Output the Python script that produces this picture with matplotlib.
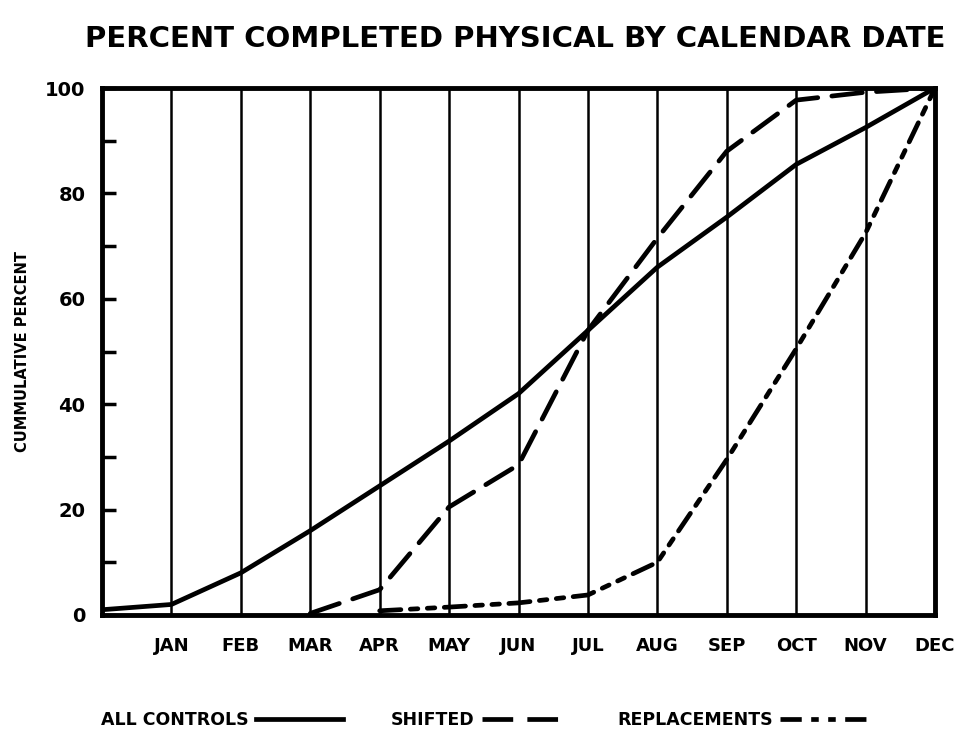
import matplotlib
matplotlib.use("Agg")
import matplotlib.pyplot as plt
from matplotlib.lines import Line2D

months = ["JAN", "FEB", "MAR", "APR", "MAY", "JUN", "JUL", "AUG", "SEP", "OCT", "NOV", "DEC"]
month_pos = list(range(1, 13))

all_x = [0, 1, 2, 3, 4, 5, 6, 7, 8, 9, 10, 11, 12]
all_controls = [1, 2, 8, 16, 24.5, 33, 42, 54, 66, 75.5, 85.5, 92.5, 100]

shifted_x = [3, 4, 5, 6, 7, 8, 9, 10, 11, 12]
shifted = [0.3, 4.8, 20.5, 28.5, 54, 71.5, 88, 97.7, 99.2, 100]

repl_x = [4, 5, 6, 7, 8, 9, 10, 11, 12]
replacements = [0.8, 1.5, 2.3, 3.8, 10, 29.5, 50.5, 72.5, 100]

yticks_major = [0, 20, 40, 60, 80, 100]
yticks_minor = [10, 30, 50, 70, 90]

FONT = ["DejaVu Sans"]
plt.rcParams["font.family"] = FONT
plt.rcParams["font.weight"] = "bold"

fig = plt.figure(figsize=(9.62, 7.36), dpi=100)
ax = fig.add_axes([102 / 962, 1 - 615 / 736, (935 - 102) / 962, (615 - 88) / 736])

ax.set_xlim(0, 12)
ax.set_ylim(0, 100)

for m in month_pos[:-1]:
    ax.axvline(m, color="black", lw=1.8, zorder=1)

lw = 3.4
d_shift = (6.5, 3)
d_repl = (4.5, 2, 1.6, 2, 1.6, 2)
l1, = ax.plot(all_x, all_controls, color="black", lw=lw, solid_capstyle="round", zorder=3)
l2, = ax.plot(shifted_x, shifted, color="black", lw=lw, dashes=d_shift, dash_capstyle="round", zorder=3)
l3, = ax.plot(repl_x, replacements, color="black", lw=lw, dashes=d_repl, dash_capstyle="round", zorder=3)

for s in ax.spines.values():
    s.set_linewidth(3.5)

ax.set_xticks(month_pos)
ax.set_xticklabels(months, fontsize=13, fontweight="bold", family=FONT)
ax.tick_params(axis="x", length=0, pad=16)

ax.set_yticks(yticks_major)
ax.set_yticks(yticks_minor, minor=True)
ax.set_yticklabels([str(v) for v in yticks_major], fontsize=14, fontweight="bold", family=FONT)
ax.tick_params(axis="y", which="both", direction="in", length=10, width=2.5, pad=12)

ax.set_ylabel("CUMMULATIVE PERCENT", fontsize=10.5, fontweight="bold", family=FONT, labelpad=11)

fig.text(0.536, 0.947, "PERCENT COMPLETED PHYSICAL BY CALENDAR DATE",
         ha="center", va="center", fontsize=21, fontweight="bold", family=FONT)

h1 = Line2D([], [], color="black", lw=lw)
h2 = Line2D([], [], color="black", lw=lw, dashes=d_shift)
h3 = Line2D([], [], color="black", lw=lw, dashes=d_repl)
fig.legend([h1, h2, h3], ["ALL CONTROLS", "SHIFTED", "REPLACEMENTS"],
           loc="center", bbox_to_anchor=(0.503, 0.022), ncol=3, frameon=False,
           markerfirst=False, handlelength=5.0, handletextpad=0.4, columnspacing=2.8,
           prop={"family": FONT, "weight": "bold", "size": 12.5})

fig.savefig("out.png", dpi=100)
